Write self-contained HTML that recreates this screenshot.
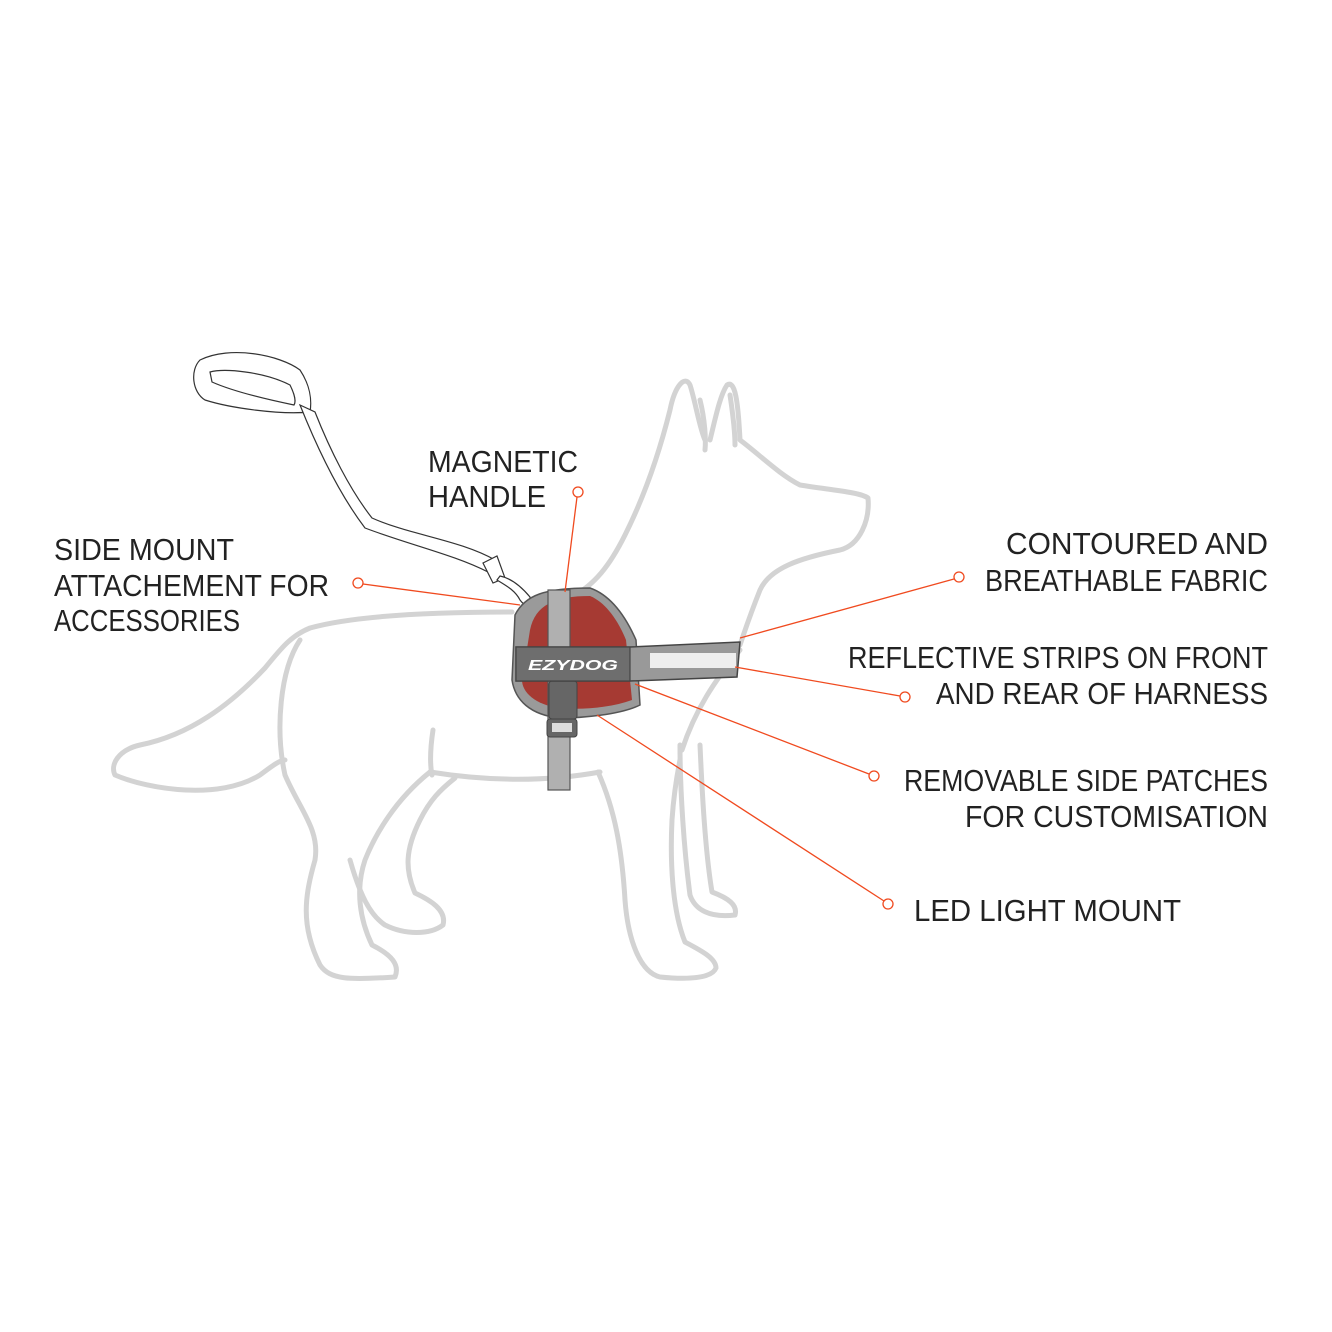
<!DOCTYPE html>
<html><head><meta charset="utf-8"><style>html,body{margin:0;padding:0;background:#fff}svg{display:block}</style></head>
<body>
<svg width="1332" height="1332" viewBox="0 0 1332 1332" xmlns="http://www.w3.org/2000/svg">
<rect width="1332" height="1332" fill="#fff"/>
<g fill="none" stroke="#d3d3d3" stroke-width="5" stroke-linecap="round" stroke-linejoin="round">
<path d="M512,612 C450,612 360,614 310,628 C290,636 280,650 265,668 C230,705 190,735 140,745 C118,750 110,765 115,775 C150,790 220,800 260,775 C272,766 280,760 285,760"/>
<path d="M300,640 C280,670 275,730 285,775 C300,810 320,830 315,860 C305,895 300,925 320,965 C330,980 350,980 395,977 C400,965 392,955 372,945 C360,920 355,890 365,860 C375,835 395,800 430,772"/>
<path d="M350,860 C360,895 370,915 385,925 C405,935 430,935 443,925 C447,910 430,900 415,893 C405,870 405,850 420,820 C430,800 440,790 455,778"/>
<path d="M433,730 C430,750 430,765 432,775"/>
<path d="M430,772 C480,780 540,783 600,772"/>
<path d="M598,772 C615,810 622,850 625,900 C628,940 640,972 660,977 C690,980 712,978 716,968 C716,958 700,950 685,942 C672,910 670,860 672,820 C674,790 678,770 680,760"/>
<path d="M680,745 C680,790 684,850 690,895 C695,910 710,918 735,915 C738,905 728,898 712,892 C705,850 702,790 700,745"/>
<path d="M740,650 C715,680 695,710 682,750"/>
<path d="M570,598 C595,585 610,565 625,535 C645,495 660,450 670,410 C675,385 685,375 690,385 C695,400 700,430 705,440 M710,440 C715,420 720,395 727,385 C735,380 738,400 740,440 C760,455 780,475 800,485 C830,490 860,492 868,498 C870,520 860,545 840,550 C800,558 770,568 760,590 C752,610 745,630 740,645"/>
<path d="M700,400 C705,420 706,440 705,450"/>
<path d="M730,395 C733,415 735,430 735,445"/>
</g>
<g fill="#fff" stroke="#333" stroke-width="1.2">
<path d="M200,360 C230,345 280,355 300,370 C310,385 312,400 310,412 C280,415 230,408 205,400 C192,392 190,370 200,360 Z M210,372 C225,368 265,372 290,385 C295,395 296,402 294,405 C260,398 230,390 212,382 Z"/>
<path d="M300,405 L315,412 C330,450 350,490 372,518 C410,535 460,540 495,560 L488,572 C455,555 410,545 365,528 C340,495 318,450 300,405 Z"/>
<path d="M483,563 L497,556 L505,578 L493,583 Z"/>
<path d="M497,580 C505,585 515,590 520,600 C526,608 530,605 530,597 C520,585 510,578 500,576 Z"/>
</g>
<path d="M515,615 C525,595 545,588 590,588 C610,595 625,615 636,640 L640,705 C620,715 580,718 560,718 C530,715 515,700 512,680 Z" fill="#9a9a9a" stroke="#555" stroke-width="1.5"/>
<path d="M530,630 C535,605 555,596 590,596 C605,602 618,620 626,640 L632,700 C610,708 580,710 560,708 C535,705 522,692 522,680 Z" fill="#a63a33"/>
<rect x="548" y="590" width="22" height="200" fill="#b0b0b0" stroke="#555" stroke-width="1.2"/>
<rect x="549" y="681" width="28" height="38" rx="3" fill="#666" stroke="#444"/>
<rect x="547" y="719" width="30" height="18" rx="3" fill="#666" stroke="#444"/>
<rect x="552" y="723" width="20" height="9" fill="#ddd"/>
<path d="M516,647 L630,647 L740,642 L737,677 L630,681 L516,681 Z" fill="#999" stroke="#444" stroke-width="1.5"/>
<rect x="516" y="647" width="114" height="34" fill="#6e6e6e" stroke="#444" stroke-width="1.2"/>
<rect x="650" y="653" width="86" height="15" fill="#eee"/>
<text x="528" y="670" font-family="Liberation Sans, sans-serif" font-size="15" font-style="italic" font-weight="bold" fill="#fff" textLength="90" lengthAdjust="spacingAndGlyphs">EZYDOG</text>
<g stroke="#f04a1f" stroke-width="1.3" fill="#fff">
<line x1="577" y1="497" x2="565" y2="592"/>
<line x1="363" y1="584" x2="520" y2="605"/>
<line x1="954" y1="579" x2="740" y2="638"/>
<line x1="900" y1="696" x2="735" y2="667"/>
<line x1="869" y1="774" x2="635" y2="684"/>
<line x1="884" y1="901" x2="597" y2="715"/>
<circle cx="578" cy="492" r="5"/>
<circle cx="358" cy="583" r="5"/>
<circle cx="959" cy="577" r="5"/>
<circle cx="905" cy="697" r="5"/>
<circle cx="874" cy="776" r="5"/>
<circle cx="888" cy="904" r="5"/>
</g>
<g font-family="Liberation Sans, sans-serif" font-size="31" fill="#222">
<text x="428" y="472" textLength="150" lengthAdjust="spacingAndGlyphs">MAGNETIC</text>
<text x="428" y="507" textLength="118" lengthAdjust="spacingAndGlyphs">HANDLE</text>
<text x="54" y="560" textLength="180" lengthAdjust="spacingAndGlyphs">SIDE MOUNT</text>
<text x="54" y="596" textLength="275" lengthAdjust="spacingAndGlyphs">ATTACHEMENT FOR</text>
<text x="54" y="631" textLength="186" lengthAdjust="spacingAndGlyphs">ACCESSORIES</text>
<text x="1006" y="554" textLength="262" lengthAdjust="spacingAndGlyphs">CONTOURED AND</text>
<text x="985" y="591" textLength="283" lengthAdjust="spacingAndGlyphs">BREATHABLE FABRIC</text>
<text x="848" y="668" textLength="420" lengthAdjust="spacingAndGlyphs">REFLECTIVE STRIPS ON FRONT</text>
<text x="936" y="704" textLength="332" lengthAdjust="spacingAndGlyphs">AND REAR OF HARNESS</text>
<text x="904" y="791" textLength="364" lengthAdjust="spacingAndGlyphs">REMOVABLE SIDE PATCHES</text>
<text x="965" y="827" textLength="303" lengthAdjust="spacingAndGlyphs">FOR CUSTOMISATION</text>
<text x="914" y="921" textLength="267" lengthAdjust="spacingAndGlyphs">LED LIGHT MOUNT</text>
</g>
</svg>
</body></html>
